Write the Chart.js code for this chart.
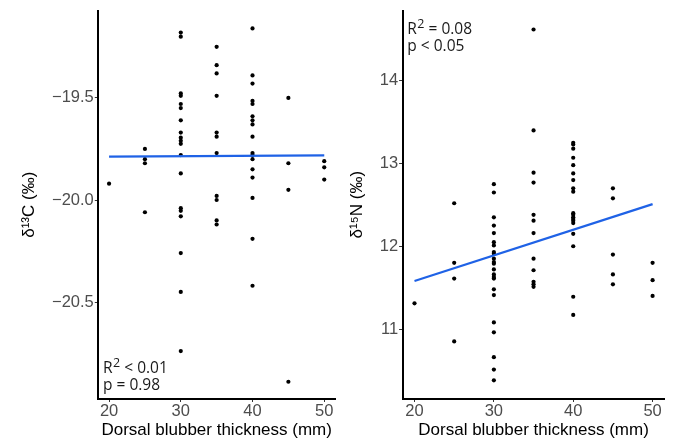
<!DOCTYPE html>
<html>
<head>
<meta charset="utf-8">
<script src="https://cdn.jsdelivr.net/npm/chart.js@4.4.0/dist/chart.umd.min.js"></script>
<style>
  html, body { margin: 0; padding: 0; background: #ffffff; }
  #wrap { position: relative; width: 678px; height: 441px; overflow: hidden; }
  .panel { position: absolute; top: 0; height: 441px; }
  #left { left: 0; width: 340px; }
  #right { left: 339px; width: 339px; }
</style>
</head>
<body>
<div id="wrap">
  <div class="panel" id="left"><canvas id="carbon"></canvas></div>
  <div class="panel" id="right"><canvas id="nitrogen"></canvas></div>
</div>
<script>
// Tick positions
const thicknessTicks = [20, 30, 40, 50];
const carbonTicks = [-20.5, -20.0, -19.5];
const nitrogenTicks = [11, 12, 13, 14];

// δ13C by dorsal blubber thickness (mm)
const carbonThickness = [
  20,
  25, 25, 25, 25,
  30, 30, 30, 30, 30, 30, 30, 30, 30, 30, 30, 30, 30, 30, 30, 30, 30, 30, 30,
  35, 35, 35, 35, 35, 35, 35, 35, 35, 35, 35,
  40, 40, 40, 40, 40, 40, 40, 40, 40, 40, 40, 40, 40, 40, 40, 40, 40,
  45, 45, 45, 45,
  50, 50, 50
];
const carbonValues = [
  -19.92,
  -19.75, -19.80, -19.82, -20.06,
  -19.18, -19.20, -19.478, -19.49, -19.53, -19.55, -19.61, -19.67, -19.695, -19.71, -19.725, -19.78, -19.87, -20.04, -20.053, -20.08, -20.26, -20.45, -20.74,
  -19.25, -19.34, -19.38, -19.49, -19.67, -19.69, -19.77, -19.98, -20.00, -20.10, -20.12,
  -19.16, -19.39, -19.43, -19.515, -19.53, -19.59, -19.61, -19.63, -19.69, -19.77, -19.78, -19.80, -19.85, -19.89, -19.99, -20.19, -20.42,
  -19.50, -19.82, -19.95, -20.89,
  -19.81, -19.84, -19.90
];

// δ15N by dorsal blubber thickness (mm)
const nitrogenThickness = [
  20,
  25, 25, 25, 25,
  30, 30, 30, 30, 30, 30, 30, 30, 30, 30, 30, 30, 30, 30, 30, 30, 30, 30, 30, 30, 30, 30, 30,
  35, 35, 35, 35, 35, 35, 35, 35, 35, 35, 35, 35,
  40, 40, 40, 40, 40, 40, 40, 40, 40, 40, 40, 40, 40, 40, 40, 40, 40, 40, 40,
  45, 45, 45, 45, 45,
  50, 50, 50
];
const nitrogenValues = [
  11.31,
  12.52, 11.80, 11.61, 10.85,
  12.75, 12.65, 12.35, 12.25, 12.16, 12.05, 12.01, 11.93, 11.91, 11.85, 11.81, 11.79, 11.72, 11.66, 11.63, 11.61, 11.48, 11.41, 11.08, 10.96, 10.66, 10.51, 10.38,
  14.62, 13.40, 12.89, 12.77, 12.38, 12.31, 12.16, 11.85, 11.71, 11.57, 11.54, 11.51,
  13.25, 13.23, 13.18, 13.07, 12.98, 12.88, 12.80, 12.70, 12.66, 12.40, 12.38, 12.35, 12.33, 12.31, 12.28, 12.15, 12.00, 11.39, 11.17,
  12.70, 12.58, 11.90, 11.66, 11.54,
  11.80, 11.59, 11.40
];

// Fitted linear trends at the ends of the thickness range
const fitThickness = [20, 50];
const carbonFit = [-19.788, -19.781];
const nitrogenFit = [11.58, 12.51];

// Fit statistics
const carbonStats = [['R', '2', ' < 0.01'], ['p = 0.98']];
const nitrogenStats = [['R', '2', ' = 0.08'], ['p < 0.05']];

const TICK_FONT = { family: '"Liberation Sans", Arial, sans-serif', size: 16.5 };
const TITLE_FONT = { family: '"Liberation Sans", Arial, sans-serif', size: 17 };
const NOTE_FAMILY = '"Open Sans", "Liberation Sans", sans-serif';

const pairs = (xs, ys) => xs.map((x, i) => ({ x, y: ys[i] }));
const minus = v => String(v).replace('-', '\u2212');

function statsPlugin(lines, anchor) {
  return {
    id: 'fitStats',
    afterDatasetsDraw(chart) {
      const { ctx, chartArea } = chart;
      ctx.save();
      ctx.fillStyle = '#1a1a1a';
      ctx.textBaseline = 'alphabetic';
      ctx.textAlign = 'left';
      const x0 = chartArea.left + 4.7;
      const y0 = anchor === 'bottom' ? chartArea.bottom - 26 : chartArea.top + 23;
      lines.forEach((parts, i) => {
        let x = x0;
        const y = y0 + i * 17.5;
        if (parts.length === 3) {
          ctx.font = '15.5px ' + NOTE_FAMILY;
          ctx.fillText(parts[0], x, y);
          x += ctx.measureText(parts[0]).width + 0.5;
          ctx.font = '12.5px ' + NOTE_FAMILY;
          ctx.fillText(parts[1], x, y - 6);
          x += ctx.measureText(parts[1]).width;
          ctx.font = '15.5px ' + NOTE_FAMILY;
          ctx.fillText(parts[2], x, y);
        } else {
          ctx.font = '15.5px ' + NOTE_FAMILY;
          ctx.fillText(parts[0], x, y);
        }
      });
      ctx.restore();
    }
  };
}

function makePanel(canvasId, opts) {
  return new Chart(document.getElementById(canvasId), {
    type: 'scatter',
    data: {
      datasets: [
        {
          data: pairs(opts.xs, opts.ys),
          backgroundColor: '#000000',
          borderColor: '#000000',
          pointRadius: 2.1,
          pointBorderWidth: 0,
          order: 2
        },
        {
          type: 'line',
          data: pairs(fitThickness, opts.fit),
          borderColor: '#1f62e6',
          borderWidth: 2.2,
          pointRadius: 0,
          fill: false,
          order: 1
        }
      ]
    },
    options: {
      responsive: false,
      animation: false,
      devicePixelRatio: 1,
      layout: { padding: { top: 9.3, right: opts.padRight, bottom: 0, left: 0 } },
      plugins: { legend: { display: false }, tooltip: { enabled: false } },
      scales: {
        x: {
          type: 'linear',
          min: 18.5,
          max: 51.5,
          afterBuildTicks: s => { s.ticks = thicknessTicks.map(v => ({ value: v })); },
          afterFit: s => { s.height = 441 - 398.5 - 9.3 + 9.3; },
          border: { display: true, color: '#000000', width: 2 },
          grid: { display: true, drawOnChartArea: false, drawTicks: true, tickLength: 3.5, color: '#333333', lineWidth: 1 },
          ticks: { color: '#4d4d4d', font: TICK_FONT, padding: 0, maxRotation: 0, autoSkip: false },
          title: { display: true, text: 'Dorsal blubber thickness (mm)', color: '#000000', font: TITLE_FONT, padding: { top: 4, bottom: 0 } }
        },
        y: {
          type: 'linear',
          min: opts.ymin,
          max: opts.ymax,
          afterBuildTicks: s => { s.ticks = opts.ticks.map(v => ({ value: v })); },
          afterFit: s => { s.width = opts.axisWidth; },
          border: { display: true, color: '#000000', width: 2 },
          grid: { display: true, drawOnChartArea: false, drawTicks: true, tickLength: 3.5, color: '#333333', lineWidth: 1 },
          ticks: { color: '#4d4d4d', font: TICK_FONT, padding: 1, callback: opts.fmt, autoSkip: false },
          title: { display: true, text: opts.yTitle, color: '#000000', font: TITLE_FONT, padding: { top: opts.titlePad, bottom: 0 } }
        }
      }
    },
    plugins: [statsPlugin(opts.stats, opts.anchor)]
  });
}

const cLeft = document.getElementById('carbon');
cLeft.width = 340; cLeft.height = 441;
const cRight = document.getElementById('nitrogen');
cRight.width = 339; cRight.height = 441;

makePanel('carbon', {
  xs: carbonThickness, ys: carbonValues, fit: carbonFit,
  ymin: -20.972, ymax: -19.074, ticks: carbonTicks,
  fmt: v => minus(v.toFixed(1)),
  yTitle: 'δ¹³C (‰)', titlePad: 19, axisWidth: 98.3, padRight: 5,
  stats: carbonStats, anchor: 'bottom'
});

makePanel('nitrogen', {
  xs: nitrogenThickness, ys: nitrogenValues, fit: nitrogenFit,
  ymin: 10.16, ymax: 14.845, ticks: nitrogenTicks,
  fmt: v => String(v),
  yTitle: 'δ¹⁵N (‰)', titlePad: 8, axisWidth: 63.6, padRight: 13.5,
  stats: nitrogenStats, anchor: 'top'
});
</script>
</body>
</html>
